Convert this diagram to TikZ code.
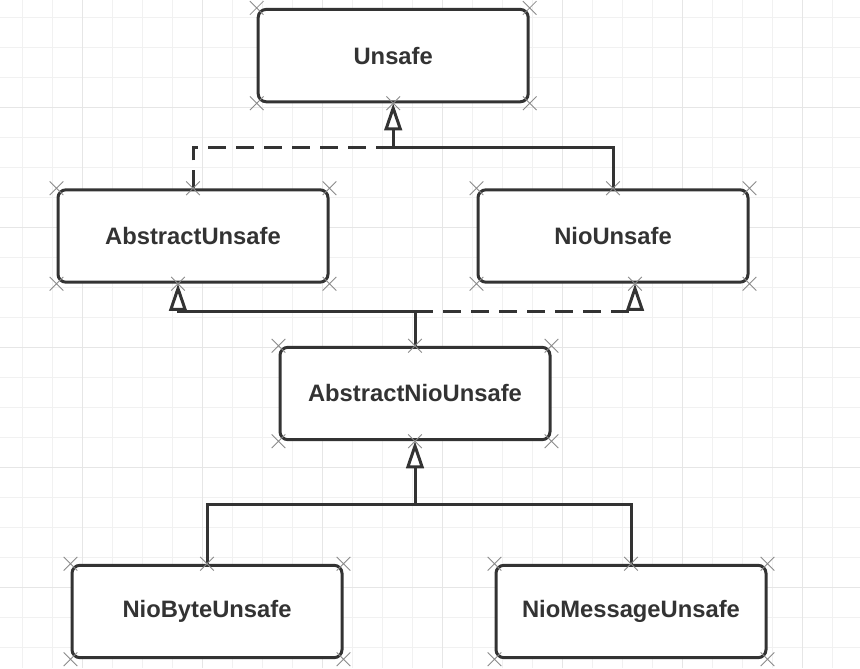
\documentclass[tikz,border=0pt]{standalone}
\usepackage{fontspec}
\setmainfont{Liberation Sans}
\usetikzlibrary{arrows.meta, shapes.misc}
\definecolor{cls-border}{HTML}{333333}
\definecolor{grid-minor}{HTML}{F1F1F1}
\definecolor{grid-major}{HTML}{E6E6E6}
\definecolor{handle-gray}{HTML}{8A8A8A}
\tikzset{
  cls/.style={
    draw=cls-border, line width=0.075cm, fill=white, rounded corners=0.2cm,
    minimum width=6.75cm, minimum height=2.31cm, text=cls-border,
    font=\fontsize{16.9}{20}\selectfont\bfseries
  },
  plain-edge/.style={line width=0.075cm, draw=cls-border},
  dash-edge/.style={plain-edge, dash pattern=on 0.45cm off 0.25cm},
  gen-tip/.style={-{Triangle[length=0.68cm, width=0.44cm, fill=white]}},
  handle/.style={cross out, draw=handle-gray, line width=0.6pt,
    minimum size=0.32cm, inner sep=0pt}
}

\begin{document}
\begin{tikzpicture}

  % ---- Canvas and grid ------------------------------------------------------
  \useasboundingbox (0, 0) rectangle (21.5, 16.7);
  \draw[grid-minor, line width=0.6pt, xshift=0.5675cm, yshift=0.525cm]
        (-0.5675, -0.525) grid[step=0.75cm] (20.9325, 16.175);
  \draw[grid-major, line width=0.7pt, xshift=2.0675cm, yshift=2.025cm]
        (-2.0675, -2.025) grid[step=3cm] (19.4325, 14.675);

  % ---- Classes ----------------------------------------------------------------
  \node[cls] (unsafe)   at (9.83,  15.31)  {Unsafe};
  \node[cls] (abstract) at (4.825, 10.8)   {AbstractUnsafe};
  \node[cls] (nio)      at (15.325, 10.8)  {NioUnsafe};
  \node[cls] (absnio)   at (10.375, 6.8625) {AbstractNioUnsafe};
  \node[cls] (niobyte)  at (5.175,  1.4125) {NioByteUnsafe};
  \node[cls] (niomsg)   at (15.775, 1.4125) {NioMessageUnsafe};

  % ---- Join points of the edges ---------------------------------------------
  \coordinate (top-join) at ([yshift=-1.1cm]unsafe.south);
  \coordinate (mid-join) at ([yshift=0.85cm]absnio.north);
  \coordinate (low-join) at ([yshift=-1.575cm]absnio.south);
  \coordinate (abstract-in) at ([xshift=-0.375cm]abstract.south);
  \coordinate (nio-in)      at ([xshift=0.55cm]nio.south);

  % ---- Edges up to Unsafe ---------------------------------------------------
  \draw[dash-edge] (abstract.north) |- (top-join);
  \draw[plain-edge, gen-tip] (nio.north) |- (top-join) -- (unsafe.south);

  % ---- Edges up from AbstractNioUnsafe --------------------------------------
  \draw[plain-edge, gen-tip] (absnio.north) -- (mid-join) -| (abstract-in);
  \draw[dash-edge, gen-tip] (mid-join) -| (nio-in);

  % ---- Edges up to AbstractNioUnsafe ----------------------------------------
  \draw[plain-edge] (niomsg.north) |- (low-join);
  \draw[plain-edge, gen-tip] (niobyte.north) |- (low-join) -- (absnio.south);

  % ---- Selection handles ------------------------------------------------------
  \foreach \cls in {unsafe, abstract, nio, absnio, niobyte, niomsg}
    \foreach \c/\a in {nw/north west, ne/north east, sw/south west, se/south east}
      \node[handle] (h-\cls-\c) at (\cls.\a) {};
  \node[handle] (h-unsafe-s)   at (unsafe.south) {};
  \node[handle] (h-abstract-n) at (abstract.north) {};
  \node[handle] (h-abstract-s) at (abstract-in) {};
  \node[handle] (h-nio-n)      at (nio.north) {};
  \node[handle] (h-nio-s)      at (nio-in) {};
  \node[handle] (h-absnio-n)   at (absnio.north) {};
  \node[handle] (h-absnio-s)   at (absnio.south) {};
  \node[handle] (h-niobyte-n)  at (niobyte.north) {};
  \node[handle] (h-niomsg-n)   at (niomsg.north) {};

\end{tikzpicture}
\end{document}
